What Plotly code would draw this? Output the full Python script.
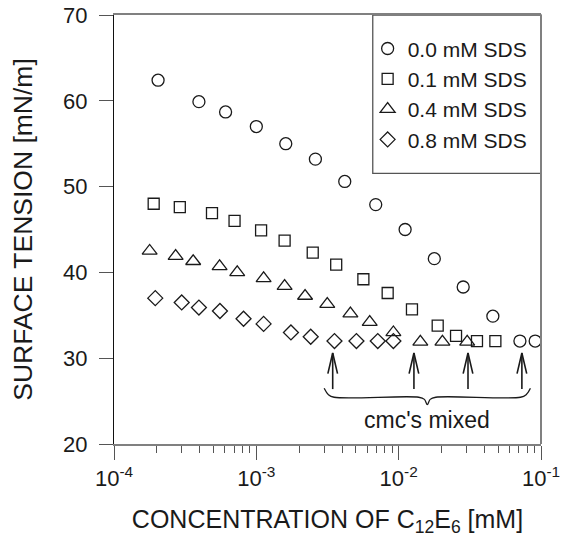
import numpy as np
import plotly.graph_objects as go

# ---- data ----
series_names = ["0.0 mM SDS", "0.1 mM SDS", "0.4 mM SDS", "0.8 mM SDS"]

conc_00 = [2.04e-4, 3.95e-4, 6.08e-4, 1.0e-3, 1.61e-3, 2.6e-3, 4.18e-3, 6.9e-3,
           1.11e-2, 1.78e-2, 2.84e-2, 4.59e-2, 7.11e-2, 9.1e-2]
st_00 = [62.4, 59.9, 58.7, 57.0, 55.0, 53.2, 50.6, 47.9, 45.0, 41.6, 38.3, 34.9, 32.0, 32.0]

conc_01 = [1.9e-4, 2.9e-4, 4.88e-4, 7.03e-4, 1.08e-3, 1.58e-3, 2.49e-3, 3.64e-3,
           5.65e-3, 8.37e-3, 1.24e-2, 1.88e-2, 2.53e-2, 3.55e-2, 4.78e-2]
st_01 = [48.0, 47.6, 46.9, 46.0, 44.9, 43.7, 42.3, 40.9, 39.2, 37.6, 35.7, 33.8, 32.6, 32.0, 32.0]

conc_04 = [1.78e-4, 2.71e-4, 3.6e-4, 5.52e-4, 7.34e-4, 1.125e-3, 1.58e-3, 2.2e-3,
           3.15e-3, 4.58e-3, 6.26e-3, 9.18e-3, 1.42e-2, 2.03e-2, 3.03e-2]
st_04 = [42.5, 41.9, 41.3, 40.7, 40.0, 39.3, 38.4, 37.25, 36.3, 35.2, 34.2, 33.0, 31.9, 31.9, 31.9]

conc_08 = [1.95e-4, 2.99e-4, 3.95e-4, 5.55e-4, 8.13e-4, 1.125e-3, 1.75e-3, 2.41e-3,
           3.54e-3, 5.05e-3, 7.13e-3, 9.18e-3]
st_08 = [37.0, 36.5, 35.9, 35.5, 34.6, 34.0, 33.0, 32.5, 32.0, 32.0, 32.0, 32.0]

cmc_mixed = [3.44e-3, 1.28e-2, 3.07e-2, 7.34e-2]
arrow_tip_y = 30.6
arrow_tail_y = 26.4
cmc_label = "cmc's mixed"

x_tickvals = [1e-4, 1e-3, 1e-2, 1e-1]
x_ticktext = ["10<sup>-4</sup>", "10<sup>-3</sup>", "10<sup>-2</sup>", "10<sup>-1</sup>"]
y_ticks = [20, 30, 40, 50, 60, 70]

FONT = "Liberation Sans, Arial, Helvetica, sans-serif"
INK = "#1a1a1a"

# minor ticks at 2..9 x each decade
x_minor = [m * d for d in x_tickvals[:-1] for m in range(2, 10)]

fig = go.Figure()

symbols = ["circle-open", "square-open", "triangle-up-open", "diamond-open"]
sizes = [12, 11, 13, 11.5]
data = [(conc_00, st_00), (conc_01, st_01), (conc_04, st_04), (conc_08, st_08)]
for name, (xs, ys), sym, sz in zip(series_names, data, symbols, sizes):
    fig.add_trace(go.Scatter(
        x=xs, y=ys, mode="markers", name=name,
        marker=dict(symbol=sym, size=sz, color=INK, line=dict(width=1.3, color=INK)),
    ))

# arrows (shaft + barbs), built from cmc values
ax_x, ax_y = [], []
k = 10 ** 0.034
barb_y = arrow_tip_y - 2.4
for c in cmc_mixed:
    ax_x += [c, c, None, c / k, c, c * k, None]
    ax_y += [arrow_tail_y, arrow_tip_y, None, barb_y, arrow_tip_y, barb_y, None]
fig.add_trace(go.Scatter(x=ax_x, y=ax_y, mode="lines", showlegend=False,
                         line=dict(color=INK, width=1.6), hoverinfo="skip"))

# curly brace below the arrows
lo, hi = np.log10(cmc_mixed[0]), np.log10(cmc_mixed[-1])
mid = (lo + hi) / 2
b_top, b_mid, b_tip = 26.5, 25.45, 24.6
bx = [lo - 0.06, lo - 0.03, lo + 0.01, mid - 0.06, mid - 0.02, mid,
      mid + 0.02, mid + 0.06, hi - 0.01, hi + 0.03, hi + 0.06]
by = [b_top, b_mid + 0.3, b_mid, b_mid, b_mid - 0.25, b_tip,
      b_mid - 0.25, b_mid, b_mid, b_mid + 0.3, b_top]
fig.add_trace(go.Scatter(x=[10 ** v for v in bx], y=by, mode="lines", showlegend=False,
                         line=dict(color=INK, width=1.3, shape="spline", smoothing=1.0),
                         hoverinfo="skip"))

fig.add_annotation(x=mid, y=22.8, xref="x", yref="y", text=cmc_label, showarrow=False,
                   font=dict(size=23, color=INK, family=FONT))

# legend box
fig.add_shape(type="rect", xref="paper", yref="paper", x0=0.606, x1=1.0, y0=0.631, y1=1.0,
              line=dict(color="#555555", width=1.3), fillcolor="white", layer="below")
# right frame edge
fig.add_shape(type="line", xref="paper", yref="paper", x0=1, x1=1, y0=0, y1=1,
              line=dict(color="#808080", width=2))

# the page body has an 8px margin, so the figure is sized to fit inside it
fig.update_layout(
    width=555, height=531,
    margin=dict(l=106, r=22, t=7, b=95, autoexpand=False),
    paper_bgcolor="white", plot_bgcolor="white",
    font=dict(family=FONT, color=INK),
    legend=dict(x=0.594, xanchor="left", y=0.815, yanchor="middle",
                bgcolor="rgba(0,0,0,0)", borderwidth=0, font=dict(size=21, color=INK)),
    showlegend=True,
)
fig.update_xaxes(
    type="log", range=[-4, -1], tickmode="array", tickvals=x_tickvals, ticktext=x_ticktext,
    automargin=False, ticklabeloverflow="allow",
    showgrid=False, zeroline=False,
    showline=True, linecolor="#808080", linewidth=1.5, mirror=True,
    ticks="outside", ticklen=14, tickcolor="#555555", tickwidth=1.2,
    tickfont=dict(size=22, color=INK), ticklabelstandoff=0,
    minor=dict(ticks="outside", ticklen=7, tickcolor="#555555", tickmode="array",
               tickvals=x_minor, showgrid=False),
    title=dict(text="CONCENTRATION OF C<sub>12</sub>E<sub>6</sub> [mM]",
               font=dict(size=25, color=INK), standoff=20),
)
fig.update_yaxes(
    range=[20, 70], tickvals=y_ticks,
    automargin=False, ticklabeloverflow="allow",
    showgrid=False, zeroline=False,
    showline=True, linecolor="#111111", linewidth=1.3, mirror=False,
    ticks="outside", ticklen=14, tickcolor="#555555", tickwidth=1.2,
    tickfont=dict(size=22, color=INK), ticklabelstandoff=7,
    title=dict(text="SURFACE TENSION [mN/m]", font=dict(size=26.5, color=INK), standoff=31),
)

fig.write_html("out.html")
